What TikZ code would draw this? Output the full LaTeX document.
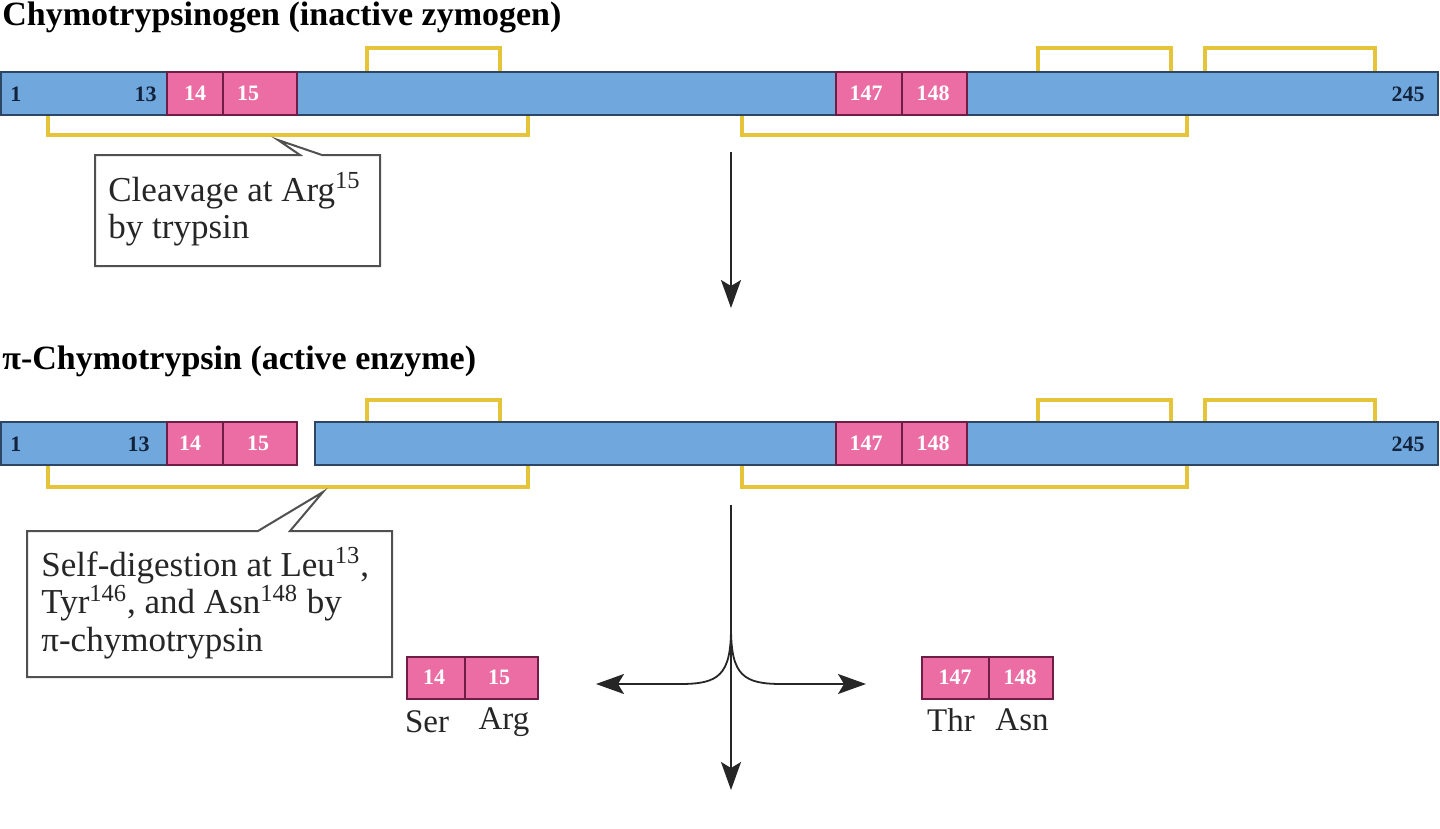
\documentclass[tikz,border=0pt]{standalone}
\usepackage{fontspec}
\setmainfont{Liberation Serif}
\usetikzlibrary{arrows.meta}
\definecolor{barblue}{RGB}{112,168,222}
\definecolor{barline}{RGB}{45,70,100}
\definecolor{pinkbox}{RGB}{236,108,164}
\definecolor{pinkline}{RGB}{110,30,70}
\definecolor{ssyellow}{RGB}{230,196,58}
\definecolor{numblue}{RGB}{20,35,60}
\definecolor{boxline}{RGB}{80,80,80}
\tikzset{
  barrect/.style={fill=barblue, draw=barline, line width=1.1pt},
  resrect/.style={fill=pinkbox, draw=pinkline, line width=1pt},
  resnum/.style={text=white, font=\bfseries\fontsize{11}{13}\selectfont, inner sep=0pt},
  barnum/.style={text=numblue, font=\bfseries\fontsize{11}{13}\selectfont, inner sep=0pt},
  ssbond/.style={draw=ssyellow, line width=2pt},
  titletext/.style={font=\bfseries\fontsize{17}{20}\selectfont, anchor=west, inner sep=0pt},
  calltext/.style={font=\fontsize{17.5}{18.8}\selectfont, align=left, anchor=north west, inner sep=0pt, text=black!85},
  callbox/.style={draw=boxline, line width=1pt, fill=white},
  reslabel/.style={font=\fontsize{16.5}{18}\selectfont, inner sep=0pt, text=black!85},
  arr/.style={draw=black!85, line width=0.9pt, -{Stealth[length=14pt,width=10pt,inset=3pt]}}
}
\begin{document}
\begin{tikzpicture}[x=0.5pt,y=-0.5pt]
\useasboundingbox (0,0) rectangle (1440,829);

% ---------- Titles ----------
\node[titletext] (t1) at (2,17) {Chymotrypsinogen (inactive zymogen)};
\node[titletext] (t2) at (2,361) {π-Chymotrypsin (active enzyme)};

% ---------- Disulfide bonds ----------
\foreach \yt/\yb/\ya/\yu in {72/115/48/135, 422/465/400/487}{
  \draw[ssbond] (367,\yt) -- (367,\ya) -- (500,\ya) -- (500,\yt);
  \draw[ssbond] (1038,\yt) -- (1038,\ya) -- (1171,\ya) -- (1171,\yt);
  \draw[ssbond] (1205,\yt) -- (1205,\ya) -- (1375,\ya) -- (1375,\yt);
  \draw[ssbond] (48,\yb) -- (48,\yu) -- (528,\yu) -- (528,\yb);
  \draw[ssbond] (742,\yb) -- (742,\yu) -- (1187,\yu) -- (1187,\yb);
}

% ---------- Top chain ----------
\draw[barrect] (1,72) rectangle (1438,115);
\draw[resrect] (167,72) rectangle (223,115);
\draw[resrect] (223,72) rectangle (297,115);
\draw[resrect] (836,72) rectangle (902,115);
\draw[resrect] (902,72) rectangle (967,115);
\node[barnum, anchor=west] (a1) at (10,94) {1};
\node[barnum, anchor=east] (a13) at (157,94) {13};
\node[barnum, anchor=east] (a245) at (1425,94) {245};
\node[resnum] (a14) at (195,93) {14};
\node[resnum] (a15) at (248,93) {15};
\node[resnum] (a147) at (866,93) {147};
\node[resnum] (a148) at (933,93) {148};

% ---------- Callout 1 ----------
\draw[callbox] (300,155) -- (278,140) -- (322,155) -- (380,155) -- (380,266) -- (95,266) -- (95,155) -- cycle;
\node[calltext] (c1) at (108,172) {Cleavage at Arg\textsuperscript{15}\\by trypsin};

% ---------- Arrow 1 ----------
\coordinate (s1) at (731,152);
\coordinate (e1) at (731,308);
\draw[arr] (s1) -- (e1);

% ---------- Second chain ----------
\draw[barrect] (1,422) rectangle (297,465);
\draw[barrect] (315,422) rectangle (1438,465);
\draw[resrect] (167,422) rectangle (223,465);
\draw[resrect] (223,422) rectangle (297,465);
\draw[resrect] (836,422) rectangle (902,465);
\draw[resrect] (902,422) rectangle (967,465);
\node[barnum, anchor=west] (b1) at (10,444) {1};
\node[barnum, anchor=east] (b13) at (150,444) {13};
\node[barnum, anchor=east] (b245) at (1425,444) {245};
\node[resnum] (b14) at (190,443) {14};
\node[resnum] (b15) at (258,443) {15};
\node[resnum] (b147) at (866,443) {147};
\node[resnum] (b148) at (933,443) {148};

% ---------- Callout 2 ----------
\draw[callbox] (258,531) -- (323,492) -- (290,531) -- (392,531) -- (392,677) -- (27,677) -- (27,531) -- cycle;
\node[calltext] (c2) at (41,547) {Self-digestion at Leu\textsuperscript{13},\\Tyr\textsuperscript{146}, and Asn\textsuperscript{148} by\\π-chymotrypsin};

% ---------- Fork arrows ----------
\coordinate (s2) at (731,505);
\coordinate (e2) at (731,790);
\coordinate (fk) at (731,628);
\coordinate (lft) at (596,684);
\coordinate (rgt) at (866,684);
\draw[arr] (s2) -- (e2);
\draw[arr] (fk) .. controls (731,676) and (718,684) .. (680,684) -- (lft);
\draw[arr] (fk) .. controls (731,676) and (744,684) .. (782,684) -- (rgt);

% ---------- Released dipeptides ----------
\draw[resrect] (407,657) rectangle (465,699);
\draw[resrect] (465,657) rectangle (538,699);
\node[resnum] (d14) at (434,677) {14};
\node[resnum] (d15) at (499,677) {15};
\node[reslabel] (ser) at (427,722) {Ser};
\node[reslabel] (arg) at (504,722) {Arg};

\draw[resrect] (922,657) rectangle (989,699);
\draw[resrect] (989,657) rectangle (1053,699);
\node[resnum] (d147) at (955,677) {147};
\node[resnum] (d148) at (1020,677) {148};
\node[reslabel] (thr) at (951,720) {Thr};
\node[reslabel] (asn) at (1022,720) {Asn};
\end{tikzpicture}
\end{document}
